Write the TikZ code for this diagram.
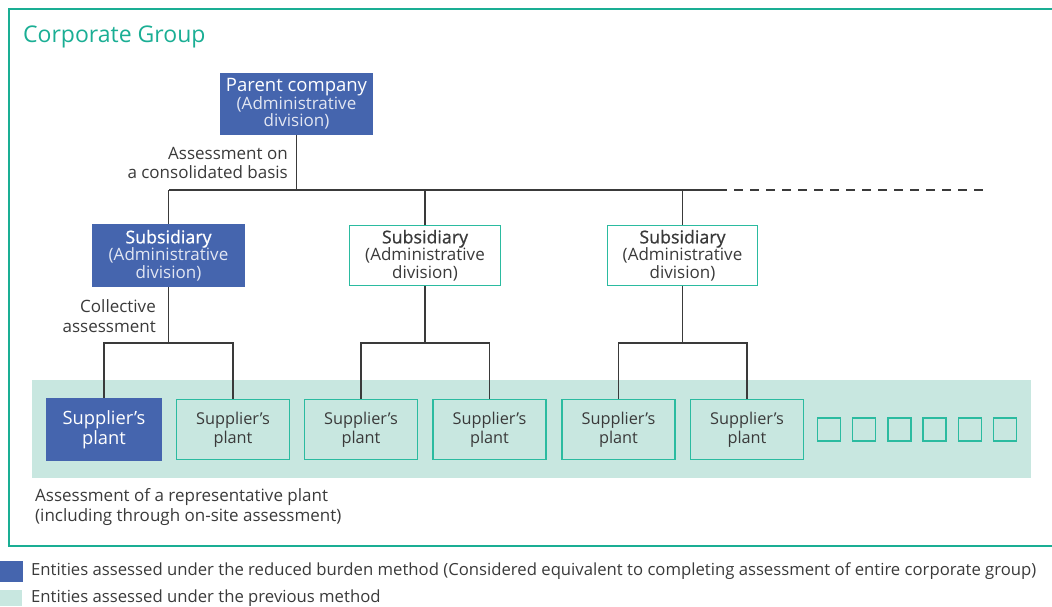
\documentclass[tikz,border=0pt]{standalone}
\usepackage{fontspec}
\setmainfont{Open Sans}
\newfontfamily\semib[FakeBold=0.8]{Open Sans}
\newcommand{\tightlines}{\lineskiplimit=-20pt\relax}
\definecolor{cblue}{HTML}{4565AE}
\definecolor{cteal}{HTML}{2BBBA0}
\definecolor{cframe}{HTML}{1AAE94}
\definecolor{clight}{HTML}{C8E7E0}
\definecolor{ctext}{HTML}{3A3A3A}
\definecolor{csoft}{HTML}{E2E6F2}
\tikzset{
  filledbox/.style={fill=cblue, draw=none, align=center, inner sep=0pt, text=white, font={\fontsize{17}{17.5}\selectfont\tightlines}},
  openbox/.style={fill=white, draw=cteal, line width=1.6pt, align=center, inner sep=0pt, text=ctext, font={\fontsize{17}{17.5}\selectfont\tightlines}},
  plantopen/.style={fill=clight, draw=cteal, line width=1.6pt, align=center, inner sep=0pt, text=ctext,
     minimum width=113pt, minimum height=60pt, font={\fontsize{16.3}{19}\selectfont\tightlines}},
  plantfill/.style={filledbox, minimum width=116pt, minimum height=63pt, font={\fontsize{18.3}{20}\selectfont\tightlines}},
  tiny/.style={fill=none, draw=cteal, line width=1.6pt, minimum width=23pt, minimum height=23pt, inner sep=0pt},
  conn/.style={draw=ctext, line width=1.3pt},
  lbl/.style={text=ctext, inner sep=0pt, font={\fontsize{17}{19.5}\selectfont\tightlines}},
}
\newcommand{\subtxt}[1]{{\semib\fontsize{17.8}{17.5}\selectfont Subsidiary}\\{\color{#1}(Administrative}\\{\color{#1}division)}}
\begin{document}
\begin{tikzpicture}[x=1pt,y=-1pt]
\useasboundingbox (0,0) rectangle (1052,606);
% frame
\draw[cframe, line width=1.4pt] (1052,9) -- (9,9) -- (9,546) -- (1052,546);
\node[anchor=base west, text=cframe, inner sep=0pt, font={\fontsize{23}{26}\selectfont}] (title) at (23,42) {Corporate Group};
% light band
\fill[clight] (32,380) rectangle (1031,478);
% parent
\node[filledbox, minimum width=153pt, minimum height=62pt] (parent) at (296.5,104)
  {{\fontsize{18.5}{17.5}\selectfont Parent company}\\{\color{csoft}(Administrative}\\{\color{csoft}division)}};
% subsidiaries
\node[filledbox, minimum width=153pt, minimum height=63pt] (sub1) at (168.5,255.5) {\subtxt{csoft}};
\node[openbox, minimum width=151pt, minimum height=60pt] (sub2) at (425,255.5) {\subtxt{ctext}};
\node[openbox, minimum width=150pt, minimum height=60pt] (sub3) at (682.5,255.5) {\subtxt{ctext}};
% plants
\node[plantfill] (p1) at (104,429.5) {Supplier’s\\plant};
\node[plantopen] (p2) at (233,429.5) {Supplier’s\\plant};
\node[plantopen] (p3) at (361,429.5) {Supplier’s\\plant};
\node[plantopen] (p4) at (489.5,429.5) {Supplier’s\\plant};
\node[plantopen] (p5) at (618.5,429.5) {Supplier’s\\plant};
\node[plantopen] (p6) at (747,429.5) {Supplier’s\\plant};
% small squares
\foreach \i/\xx in {1/829, 2/864, 3/899.5, 4/934.5, 5/970, 6/1005} {
  \node[tiny] (sq\i) at (\xx,429.5) {};
}
% connectors
\coordinate (busL) at (169,190);
\coordinate (busR) at (718,190);
\coordinate (busE) at (988,190);
\draw[conn] (busL) -- (busR);
\draw[conn, dash pattern=on 9pt off 7pt] (busR) -- (busE);
\draw[conn] (parent.south) -- (parent.south |- busL);
\draw[conn] (sub1.north) -- (sub1.north |- busL);
\draw[conn] (sub2.north) -- (sub2.north |- busL);
\draw[conn] (sub3.north) -- (sub3.north |- busL);
\coordinate (j1) at (168.5,343);
\coordinate (j2) at (425,343);
\coordinate (j3) at (682.5,343);
\draw[conn] (sub1.south) -- (j1);
\draw[conn] (sub2.south) -- (j2);
\draw[conn] (sub3.south) -- (j3);
\draw[conn] (p1.north) |- (j1) -| (p2.north);
\draw[conn] (p3.north) |- (j2) -| (p4.north);
\draw[conn] (p5.north) |- (j3) -| (p6.north);
% labels
\node[lbl, align=right, anchor=east] (l1) at (288,163) {Assessment on\\a consolidated basis};
\node[lbl, align=right, anchor=east] (l2) at (156,316) {Collective\\assessment};
\node[lbl, align=left, anchor=west] (l3) at (35,507) {Assessment of a representative plant\\(including through on-site assessment)};
% legend
\fill[cblue] (0,561) rectangle (23,582);
\fill[clight] (0,590) rectangle (22,606);
\node[lbl, anchor=west, font={\fontsize{16.7}{19}\selectfont}] (lg1) at (31,571.5) {Entities assessed under the reduced burden method (Considered equivalent to completing assessment of entire corporate group)};
\node[lbl, anchor=west, font={\fontsize{16.7}{19}\selectfont}] (lg2) at (31,598) {Entities assessed under the previous method};
\end{tikzpicture}
\end{document}
